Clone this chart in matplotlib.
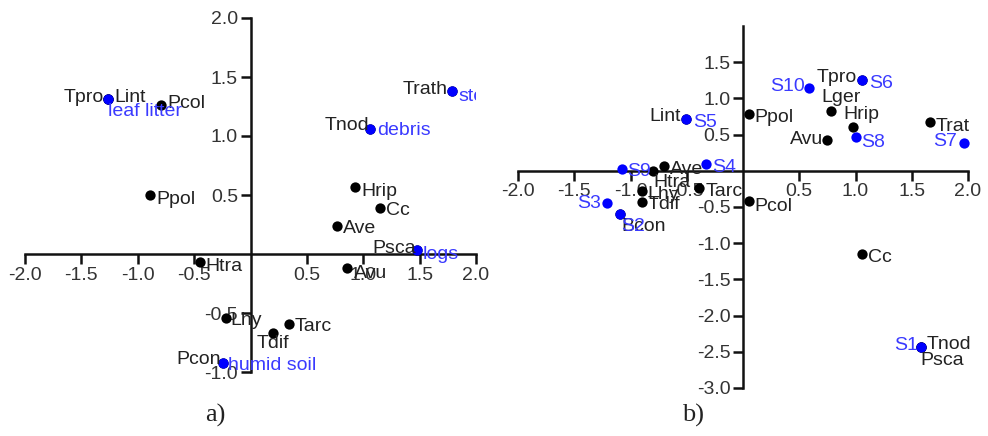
import numpy as np
import matplotlib
matplotlib.use("Agg")
import matplotlib.pyplot as plt
from matplotlib.ticker import FormatStrFormatter

plt.rcParams['font.family'] = ['Liberation Sans', 'DejaVu Sans']
plt.rcParams['axes.unicode_minus'] = False

# ---- panel a) data ----
a_species = ["Tpro", "Lint", "Pcol", "Ppol", "Trath", "Tnod", "Hrip", "Cc", "Ave",
             "Psca", "Avu", "Htra", "Lhy", "Tarc", "Tdif", "Pcon"]
a_species_x = [-1.26, -1.26, -0.79, -0.89, 1.79, 1.06, 0.93, 1.15, 0.77,
               1.48, 0.86, -0.45, -0.22, 0.34, 0.20, -0.24]
a_species_y = [1.31, 1.31, 1.26, 0.50, 1.38, 1.06, 0.57, 0.39, 0.24,
               0.03, -0.12, -0.07, -0.54, -0.59, -0.67, -0.92]
a_sites = ["leaf litter", "stones", "debris", "logs", "humid soil"]
a_sites_x = [-1.26, 1.79, 1.06, 1.48, -0.24]
a_sites_y = [1.31, 1.38, 1.06, 0.03, -0.92]

# ---- panel b) data ----
b_species = ["Tpro", "Lger", "Hrip", "Avu", "Trat", "Ppol", "Lint", "Pcol", "Tarc",
             "Ave", "Htra", "Lhy", "Tdif", "Bcon", "Cc", "Tnod", "Psca"]
b_species_x = [1.06, 0.78, 0.98, 0.75, 1.66, 0.05, -0.51, 0.05, -0.39,
               -0.70, -0.80, -0.90, -0.90, -1.09, 1.06, 1.58, 1.58]
b_species_y = [1.26, 0.83, 0.60, 0.42, 0.67, 0.78, 0.72, -0.42, -0.24,
               0.07, 0.00, -0.28, -0.43, -0.60, -1.15, -2.44, -2.44]
b_sites = ["S1", "S2", "S3", "S4", "S5", "S6", "S7", "S8", "S9", "S10"]
b_sites_x = [1.58, -1.09, -1.21, -0.33, -0.51, 1.06, 1.96, 1.00, -1.08, 0.59]
b_sites_y = [-2.44, -0.60, -0.45, 0.10, 0.72, 1.26, 0.38, 0.46, 0.03, 1.15]

# label placement (pixel offsets from the point, horizontal alignment)
a_sp_off = {"Tpro": (-5, 2, "right"), "Lint": (6, 2, "left"), "Pcol": (6, 2, "left"),
            "Ppol": (6, -4, "left"), "Trath": (-5, 2, "right"), "Tnod": (-1, 3, "right"),
            "Hrip": (6, -5, "left"), "Cc": (6, -3, "left"), "Ave": (6, -3, "left"),
            "Psca": (-1, 2, "right"), "Avu": (6, -5, "left"), "Htra": (6, -4, "left"),
            "Lhy": (5, -3, "left"), "Tarc": (6, -3, "left"), "Tdif": (0, -10, "center"),
            "Pcon": (-3, 3, "right")}
a_site_off = {"leaf litter": (0, -12, "left"), "stones": (6, -5, "left"),
              "debris": (7, -2, "left"), "logs": (5, -4, "left"),
              "humid soil": (5, -3, "left")}
b_sp_off = {"Tpro": (-5, 2, "right"), "Lger": (-9, 13, "left"), "Hrip": (-10, 13, "left"),
            "Avu": (-4, 1, "right"), "Trat": (6, -4, "left"), "Ppol": (6, -3, "left"),
            "Lint": (-5, 2, "right"), "Pcol": (6, -5, "left"), "Tarc": (6, -3, "left"),
            "Ave": (6, -4, "left"), "Htra": (0, -12, "left"), "Lhy": (6, -3, "left"),
            "Tdif": (6, -3, "left"), "Bcon": (1, -12, "left"), "Cc": (6, -3, "left"),
            "Tnod": (6, 3, "left"), "Psca": (0, -13, "left")}
b_site_off = {"S1": (-3, 2, "right"), "S2": (1, -12, "left"), "S3": (-6, 0, "right"),
              "S4": (6, -4, "left"), "S5": (7, -4, "left"), "S6": (7, -4, "left"),
              "S7": (-7, 2, "right"), "S8": (6, -5, "left"), "S9": (6, -3, "left"),
              "S10": (-5, 1, "right")}

FS = 14
BLACK_TXT = "#222222"
BLUE_DOT = "#0000ff"
BLUE_TXT = "#3a3aff"

fig = plt.figure(figsize=(9.88, 4.36), dpi=100)
W, H = 988, 436


def make_axes(x_left, x_right, y_top, y_bottom):
    return fig.add_axes([x_left / W, (H - y_bottom) / H,
                         (x_right - x_left) / W, (y_bottom - y_top) / H])


def style(ax, ylim, yticks):
    ax.set_xlim(-2.0, 2.0)
    ax.set_ylim(*ylim)
    ax.patch.set_alpha(0)
    for s in ["top", "right"]:
        ax.spines[s].set_visible(False)
    for s in ["left", "bottom"]:
        ax.spines[s].set_position(("data", 0))
        ax.spines[s].set_linewidth(1.8)
        ax.spines[s].set_color("#111111")
    ax.set_xticks([-2.0, -1.5, -1.0, -0.5, 0.5, 1.0, 1.5, 2.0])
    ax.set_yticks(yticks)
    ax.xaxis.set_major_formatter(FormatStrFormatter("%.1f"))
    ax.yaxis.set_major_formatter(FormatStrFormatter("%.1f"))
    ax.tick_params(direction="out", length=7, width=1.8, color="#111111",
                   labelsize=FS, labelcolor="#333333", pad=2)


def plot_points(ax, names, xs, ys, offs, dot, txt, clip):
    ax.scatter(xs, ys, s=55, color=dot, zorder=3, clip_on=False, linewidths=0)
    for n, x, y in zip(names, xs, ys):
        dx, dy, ha = offs[n]
        ax.annotate(n, (x, y), xytext=(dx, dy), textcoords="offset pixels",
                    ha=ha, va="center", fontsize=FS, color=txt, clip_on=clip,
                    zorder=4)


# panel a (labels cut at the plot edge, as in the original)
ax1 = make_axes(25, 476, 18, 372)
style(ax1, (-1.0, 2.0), [-1.0, -0.5, 0.5, 1.0, 1.5, 2.0])
plot_points(ax1, a_species, a_species_x, a_species_y, a_sp_off, "black", BLACK_TXT, True)
plot_points(ax1, a_sites, a_sites_x, a_sites_y, a_site_off, BLUE_DOT, BLUE_TXT, True)

# panel b
ax2 = make_axes(518, 968, 26, 388)
style(ax2, (-3.0, 2.0), [-3.0, -2.5, -2.0, -1.5, -1.0, -0.5, 0.5, 1.0, 1.5])
plot_points(ax2, b_species, b_species_x, b_species_y, b_sp_off, "black", BLACK_TXT, False)
plot_points(ax2, b_sites, b_sites_x, b_sites_y, b_site_off, BLUE_DOT, BLUE_TXT, False)

fig.text(215 / W, 1 - 415 / H, "a)", ha="center", va="center",
         fontsize=19, family="Liberation Serif", color="#222222")
fig.text(693 / W, 1 - 415 / H, "b)", ha="center", va="center",
         fontsize=19, family="Liberation Serif", color="#222222")

fig.savefig("out.png", dpi=100)
